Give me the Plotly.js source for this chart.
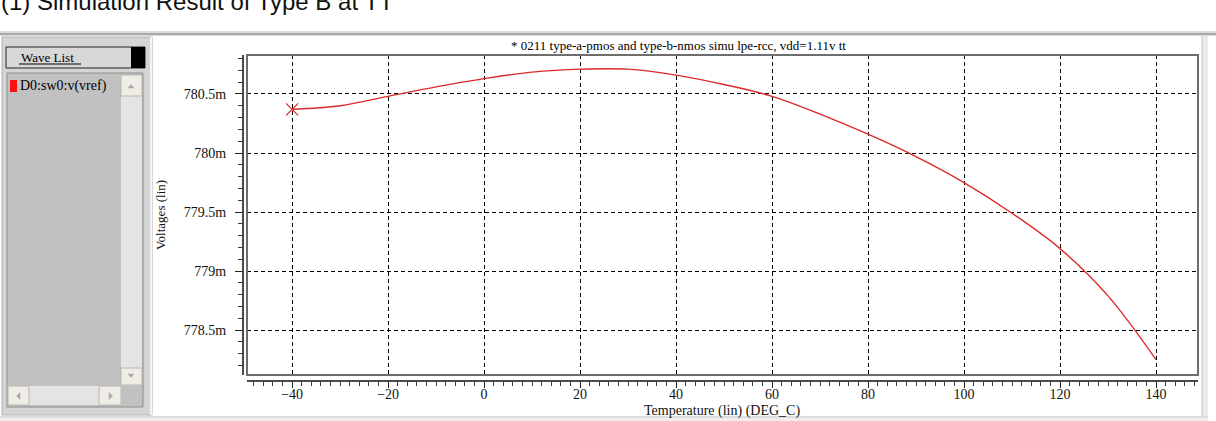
<!DOCTYPE html>
<html>
<head>
<meta charset="utf-8">
<script src="https://cdn.plot.ly/plotly-3.0.1.min.js"></script>
<style>html,body{margin:0;padding:0;background:#fff;}#chart{width:1216px;height:421px;}</style>
</head>
<body>
<div id="chart"></div>
<script>
// ---- data ----
const temperature = [-40,-30,-20,-10,0,10,20,30,40,50,60,70,80,90,100,110,120,130,140];
const vrefMilliVolts = [780.37,780.40,780.48,780.56,780.63,780.685,780.71,780.71,780.66,780.58,780.48,780.33,780.16,779.97,779.75,779.49,779.19,778.79,778.25];
const xTickValues = [-40,-20,0,20,40,60,80,100,120,140];
const yTickValues = [778.5,779,779.5,780,780.5];
const yTickLabels = ['778.5m','779m','779.5m','780m','780.5m'];
const pageHeading = '(1) Simulation Result of Type B at TT';
const plotTitle = '* 0211 type-a-pmos and type-b-nmos simu lpe-rcc, vdd=1.11v tt';
const xTitle = 'Temperature (lin) (DEG_C)';
const yTitle = 'Voltages (lin)';
const waveListTitle = 'Wave List';
const waveName = 'D0:sw0:v(vref)';

// ---- layout helpers (pixel -> paper) ----
const W = 1216, H = 421, ML = 242, MR = 18, MT = 55, MB = 41;
const PW = W - ML - MR, PH = H - MT - MB;
const px = x => (x - ML) / PW;
const py = y => (H - MB - y) / PH;
const SERIF = 'Liberation Serif, Times New Roman, serif';

function rect(x0, y0, x1, y1, fill, lineColor, lw) {
  return {type:'rect', xref:'paper', yref:'paper', layer:'above',
    x0:px(x0), x1:px(x1), y0:py(y1), y1:py(y0),
    fillcolor:fill, line:{color:lineColor || 'rgba(0,0,0,0)', width: lw === undefined ? 1 : lw}};
}
function hline(x0, x1, y, color, w) {
  return {type:'line', xref:'paper', yref:'paper', layer:'above',
    x0:px(x0), x1:px(x1), y0:py(y), y1:py(y), line:{color:color, width:w}};
}
function vline(x, y0, y1, color, w) {
  return {type:'line', xref:'paper', yref:'paper', layer:'above',
    x0:px(x), x1:px(x), y0:py(y0), y1:py(y1), line:{color:color, width:w}};
}
function tri(pts, color) {
  let d = pts.map((p, i) => (i ? 'L' : 'M') + px(p[0]) + ',' + py(p[1])).join(' ') + ' Z';
  return {type:'path', xref:'paper', yref:'paper', layer:'above', path:d, fillcolor:color, line:{color:color, width:0.5}};
}

const shapes = [
  // top window border
  rect(0, 31, W, 36, '#dcdcdc', null, 0),
  hline(0, W, 34, '#a9a9a9', 2),
  // right & bottom window border
  rect(1202, 36, 1208, 418, '#eeeaea', null, 0),
  vline(1202, 36, 418, '#c9c6c6', 1),
  rect(0, 416, 1208, 421, '#f0eeee', null, 0),
  hline(0, 1208, 417, '#cfcfcf', 1),
  // left panel
  rect(2, 37, 152, 415, '#d5d5d5', '#b0b0b0', 1),
  vline(151, 37, 415, '#f4f4f4', 2),
  // wave list header
  rect(6, 47, 145, 68, '#d8d8d8', '#222222', 1),
  rect(131, 47, 145, 68, '#000000', null, 0),
  hline(19, 81, 64, '#000000', 1),
  // list box
  rect(7, 73, 143, 407, '#c1c1c1', '#8c8c8c', 1),
  // vertical scroll bar
  rect(121, 75, 142, 385, '#e6e4e2', null, 0),
  rect(121, 75, 142, 96, '#efede6', '#b8b8b0', 1),
  rect(121, 368, 142, 385, '#efede6', '#b8b8b0', 1),
  tri([[128, 88], [134, 88], [131, 84.5]], '#a8a8a8'),
  tri([[128, 374], [134, 374], [131, 377.5]], '#a8a8a8'),
  // horizontal scroll bar
  rect(8, 386, 121, 405, '#e6e4e2', null, 0),
  rect(8, 386, 29, 405, '#efede6', '#b8b8b0', 1),
  rect(99, 386, 121, 405, '#efede6', '#b8b8b0', 1),
  tri([[20, 392.5], [20, 399.5], [16.5, 396]], '#a8a8a8'),
  tri([[109, 392.5], [109, 399.5], [112.5, 396]], '#a8a8a8'),
  rect(121, 385, 142, 406, '#c1c1c1', null, 0),
  // wave colour square
  rect(10, 80, 17, 92, '#ff1010', null, 0),
  // plot frame
  {type:'rect', xref:'x domain', yref:'y domain', x0:0, x1:1, y0:0, y1:1, layer:'above',
   line:{color:'#6e6e6e', width:2}, fillcolor:'rgba(0,0,0,0)'}
];

const annotations = [
  {text: pageHeading, xref:'paper', yref:'paper', x:px(-1), y:py(1), xanchor:'left', yanchor:'middle',
   showarrow:false, font:{family:'Liberation Sans, Arial, sans-serif', size:24, color:'#111'}},
  {text: plotTitle, xref:'paper', yref:'paper', x:px(678), y:py(45), xanchor:'center', yanchor:'middle',
   showarrow:false, font:{family:SERIF, size:13, color:'#000'}},
  {text: waveListTitle, xref:'paper', yref:'paper', x:px(19), y:py(57), xanchor:'left', yanchor:'middle',
   showarrow:false, font:{family:SERIF, size:13, color:'#000'}},
  {text: waveName, xref:'paper', yref:'paper', x:px(18), y:py(86), xanchor:'left', yanchor:'middle',
   showarrow:false, font:{family:SERIF, size:14, color:'#000'}},
  {text: xTitle, xref:'paper', yref:'paper', x:px(722), y:py(410.5), xanchor:'center', yanchor:'middle',
   showarrow:false, font:{family:SERIF, size:14, color:'#111'}}
];

const xRange = [-49.4, 148.75];
const yRange = [778.12, 780.83];
const domX = [px(247), 1];
const domY = [py(375), 1];

const traces = [
  {x: temperature, y: vrefMilliVolts, xaxis:'x', yaxis:'y', mode:'lines', type:'scatter',
   line:{color:'#dc2a2a', width:1.4, shape:'spline', smoothing:1}, hoverinfo:'skip', showlegend:false},
  {x: [temperature[0]], y: [vrefMilliVolts[0]], xaxis:'x', yaxis:'y', mode:'markers', type:'scatter',
   marker:{symbol:'x-thin-open', size:12, color:'#dc2a2a', line:{color:'#dc2a2a', width:1.2}},
   hoverinfo:'skip', showlegend:false},
  {x: temperature, y: vrefMilliVolts, xaxis:'x2', yaxis:'y2', mode:'lines', type:'scatter',
   line:{width:0}, opacity:0, hoverinfo:'skip', showlegend:false}
];

const layout = {
  width: W, height: H,
  margin: {l:ML, r:MR, t:MT, b:MB, pad:0},
  paper_bgcolor:'#ffffff', plot_bgcolor:'#ffffff',
  showlegend:false,
  xaxis: {domain:domX, range:xRange, anchor:'y', showline:false, zeroline:false, ticks:'',
    showticklabels:false, tickmode:'array', tickvals:xTickValues,
    showgrid:true, gridcolor:'#000000', gridwidth:1, griddash:'4px,3px', fixedrange:true},
  yaxis: {domain:domY, range:yRange, anchor:'x', showline:false, zeroline:false, ticks:'',
    showticklabels:false, tickmode:'array', tickvals:yTickValues,
    showgrid:true, gridcolor:'#000000', gridwidth:1, griddash:'4px,3px', fixedrange:true},
  xaxis2: {overlaying:'x', anchor:'free', position:0, range:xRange, showgrid:false, zeroline:false,
    showline:true, linecolor:'#4a4a4a', linewidth:1.5,
    tickmode:'array', tickvals:xTickValues, ticks:'outside', ticklen:6, tickwidth:1, tickcolor:'#222',
    minor:{dtick:2, tick0:0, ticks:'outside', ticklen:4, tickwidth:1, tickcolor:'#333', showgrid:false},
    ticklabelstandoff:-5,
    tickfont:{family:SERIF, size:14, color:'#111'},
    automargin:false, fixedrange:true},
  yaxis2: {overlaying:'y', anchor:'free', position:0, range:yRange, showgrid:false, zeroline:false,
    showline:true, linecolor:'#4a4a4a', linewidth:1.5, side:'left',
    tickmode:'array', tickvals:yTickValues, ticktext:yTickLabels, ticks:'outside', ticklen:7, tickwidth:1, tickcolor:'#222',
    minor:{dtick:0.1, tick0:778.5, ticks:'outside', ticklen:4, tickwidth:1, tickcolor:'#333', showgrid:false},
    ticklabelstandoff:6,
    tickfont:{family:SERIF, size:14, color:'#111'},
    title:{text:yTitle, font:{family:SERIF, size:13, color:'#111'}, standoff:14},
    automargin:false, fixedrange:true},
  shapes: shapes,
  annotations: annotations
};

Plotly.newPlot('chart', traces, layout, {displayModeBar:false, staticPlot:true});
</script>
</body>
</html>
